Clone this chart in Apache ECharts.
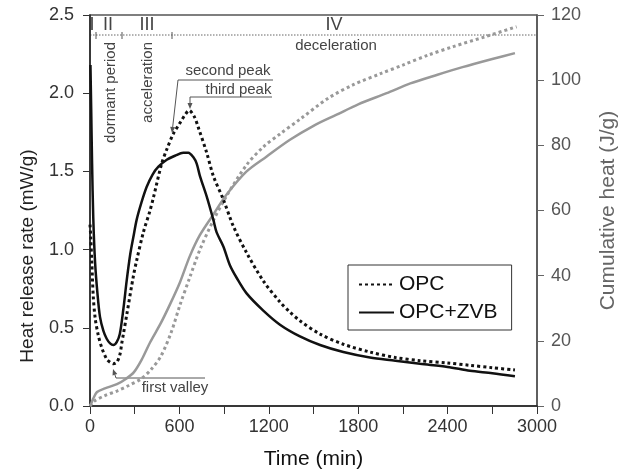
<!DOCTYPE html>
<html>
<head>
<meta charset="utf-8">
<script src="https://cdn.jsdelivr.net/npm/echarts@6/dist/echarts.min.js"></script>
<style>html,body{margin:0;padding:0;background:#fff;}#c{width:629px;height:475px;}</style>
</head>
<body>
<div id="c"></div>
<script>
// ---- data ----
const opcRateTime = [0,5,12,22,35,56,80,112,135,157,180,201,213,224,246,291,313,358,403,425,481,515,559,604,640,665,700,727,783,828,895,962,1051,1163,1275,1342,1409,1544,1700,1879,2050,2215,2400,2550,2700,2852];
const opcRate =     [1.16,1.08,0.92,0.70,0.56,0.45,0.37,0.30,0.28,0.27,0.28,0.33,0.40,0.46,0.58,0.83,0.93,1.11,1.25,1.33,1.55,1.64,1.74,1.81,1.865,1.89,1.85,1.78,1.62,1.47,1.32,1.15,0.98,0.80,0.665,0.60,0.545,0.46,0.395,0.345,0.31,0.29,0.275,0.26,0.245,0.23];

const zvbRateTime = [3,8,14,22,34,50,67,90,112,135,157,180,200,224,246,270,291,313,345,380,420,459,515,570,626,660,694,716,738,783,828,850,895,939,984,1051,1163,1275,1409,1544,1700,1879,2050,2215,2400,2550,2700,2852];
const zvbRate =     [2.18,1.9,1.55,1.2,0.92,0.72,0.57,0.48,0.43,0.40,0.39,0.41,0.46,0.62,0.80,0.97,1.08,1.19,1.30,1.40,1.48,1.53,1.575,1.60,1.62,1.62,1.59,1.55,1.47,1.34,1.19,1.11,1.02,0.90,0.82,0.72,0.61,0.52,0.445,0.39,0.345,0.31,0.29,0.27,0.25,0.225,0.21,0.19];

const opcCumTime = [0,10,27,100,181,260,342,410,476,544,604,670,738,828,917,1051,1163,1275,1409,1600,1767,1950,2103,2270,2438,2650,2863];
const opcCum =     [0,0.6,1.5,3.2,4.6,6.3,8.3,11.2,15.3,22.5,31,39.5,48,57,64.5,74,79.5,83.5,88,94.5,98.6,102,104.7,107.7,110.3,113.3,116.4];

const zvbCumTime = [0,7,20,47,100,181,240,295,350,403,476,540,604,670,738,828,917,1051,1186,1342,1500,1655,1800,1991,2150,2327,2500,2700,2852];
const zvbCum =     [0,0.6,2.1,4.3,5.4,6.7,8.3,10.4,14.5,19.5,25.5,31.5,38,46,52.5,58.8,64.9,72.0,76.6,81.7,86,89.4,92.6,96.0,99,101.6,104,106.5,108.3];

const xTicks = [0,600,1200,1800,2400,3000];
const seriesNames = ['OPC','OPC+ZVB'];

function zip(t, v){ return t.map((x,i)=>[x, v[i]]); }

const FONT = 'Liberation Sans, Arial, Helvetica, sans-serif';
const chart = echarts.init(document.getElementById('c'), null, {renderer:'canvas'});

function arrow(x1,y1,x2,y2,color){
  const a = Math.atan2(y2-y1, x2-x1), L = 6, W = 2.5;
  const bx = x2 - L*Math.cos(a), by = y2 - L*Math.sin(a);
  const px = -Math.sin(a)*W, py = Math.cos(a)*W;
  return [
    {type:'line', shape:{x1:x1,y1:y1,x2:bx,y2:by}, style:{stroke:color, lineWidth:1}, silent:true},
    {type:'polygon', shape:{points:[[x2,y2],[bx+px,by+py],[bx-px,by-py]]}, style:{fill:color}, silent:true}
  ];
}
function hline(x1,x2,y,color){
  return {type:'line', shape:{x1:x1,y1:y,x2:x2,y2:y}, style:{stroke:color, lineWidth:1}, silent:true};
}
function txt(x,y,s,opt,rot){
  const o = {type:'text', x:x, y:y, silent:true,
    style:Object.assign({text:s, fill:'#444', font:'15px '+FONT, textAlign:'center', textVerticalAlign:'middle'}, opt||{})};
  if (rot) o.rotation = rot;
  return o;
}

const ann = '#555';
const graphics = [].concat(
  [{type:'line', shape:{x1:90,y1:35,x2:537,y2:35}, style:{stroke:'#666', lineWidth:1, lineDash:[1.5,1.5]}, silent:true}],
  [96,122,172].map(x=>({type:'line', shape:{x1:x,y1:32,x2:x,y2:39}, style:{stroke:'#555', lineWidth:1}, silent:true})),
  [txt(92,25,'I',{font:'18px '+FONT}), txt(108,25,'II',{font:'18px '+FONT}), txt(147,25,'III',{font:'18px '+FONT}), txt(334,25,'IV',{font:'18px '+FONT}),
   txt(336,46,'deceleration'),
   txt(110.5,42,'dormant period',{textAlign:'right'},Math.PI/2), txt(147.5,42,'acceleration',{textAlign:'right'},Math.PI/2)],
  [hline(178,273,80,ann)], arrow(178,80,172,133,ann), [txt(228,71,'second peak')],
  [hline(190,272,97,ann)], arrow(190,97,190,109,ann), [txt(238.5,90,'third peak')],
  [hline(116,205,378,ann)], arrow(116,378,113,369,ann), [txt(175,388,'first valley')],
  [txt(28,256,'Heat release rate (mW/g)',{fill:'#222', font:'19px '+FONT},Math.PI/2)]
);

const lineCommon = {type:'line', showSymbol:false, symbol:'none', smooth:0.3};

const option = {
  animation:false,
  backgroundColor:'#fff',
  textStyle:{fontFamily:FONT},
  grid:{left:90, right:92, top:15, bottom:68, show:true, borderColor:'#555', borderWidth:1.5},
  legend:{
    data:[
      {name:seriesNames[0], itemStyle:{opacity:0}},
      {name:seriesNames[1], itemStyle:{opacity:0}}
    ],
    left:348, top:265, orient:'vertical',
    borderColor:'#333', borderWidth:1, padding:[9,14,7,10], itemGap:7,
    itemWidth:35, itemHeight:14, textStyle:{fontSize:21, color:'#111', fontFamily:FONT}
  },
  xAxis:{
    type:'value', min:0, max:3000, interval:300,
    name:'Time (min)', nameLocation:'middle', nameGap:43,
    nameTextStyle:{fontSize:21, color:'#111'},
    axisLine:{lineStyle:{color:'#222', width:1.5}},
    axisTick:{length:8, lineStyle:{color:'#333'}},
    axisLabel:{fontSize:18, color:'#333', margin:12, formatter:v=> xTicks.indexOf(v)>=0 ? String(v) : ''},
    splitLine:{show:false}
  },
  yAxis:[{
    type:'value', min:0, max:2.5, interval:0.5, position:'left',
    axisLine:{show:true, lineStyle:{color:'#222', width:1.5}},
    axisTick:{show:true, length:7, lineStyle:{color:'#333'}},
    axisLabel:{fontSize:18, color:'#333', margin:16, formatter:v=>v.toFixed(1)},
    splitLine:{show:false}
  },{
    type:'value', min:0, max:120, interval:20, position:'right',
    name:'Cumulative heat (J/g)', nameLocation:'middle', nameGap:71, nameRotate:90,
    nameTextStyle:{fontSize:21, color:'#666', verticalAlign:'middle'},
    axisLine:{show:true, lineStyle:{color:'#555', width:1.5}},
    axisTick:{show:true, length:7, lineStyle:{color:'#666'}},
    axisLabel:{fontSize:18, color:'#555', margin:14},
    splitLine:{show:false}
  }],
  series:[
    Object.assign({}, lineCommon, {name:'OPC cumulative', yAxisIndex:1, data:zip(opcCumTime,opcCum),
     lineStyle:{color:'#999', width:3, type:[3,3]}, z:1}),
    Object.assign({}, lineCommon, {name:'OPC+ZVB cumulative', yAxisIndex:1, data:zip(zvbCumTime,zvbCum),
     lineStyle:{color:'#999', width:2.5}, z:1}),
    Object.assign({}, lineCommon, {name:'OPC', yAxisIndex:0, data:zip(opcRateTime,opcRate),
     lineStyle:{color:'#111', width:3, type:[3,3]}, itemStyle:{color:'#111'}, z:3}),
    Object.assign({}, lineCommon, {name:'OPC+ZVB', yAxisIndex:0, data:zip(zvbRateTime,zvbRate),
     lineStyle:{color:'#111', width:2.5}, itemStyle:{color:'#111'}, z:3})
  ],
  graphic:graphics
};
chart.setOption(option);
</script>
</body>
</html>
